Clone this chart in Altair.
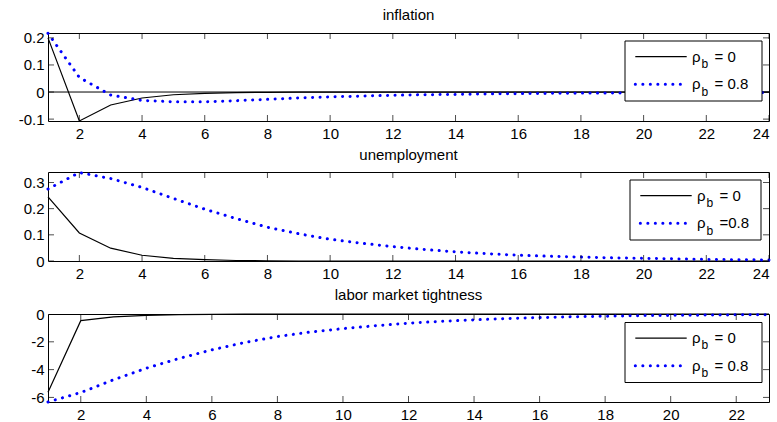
import altair as alt
import pandas as pd

FONT = "Liberation Sans"
BLUE = "#0000ff"

# ---------------- data ----------------
periods_24 = [1, 2, 3, 4, 5, 6, 7, 8, 9, 10, 11, 12, 13, 14, 15, 16, 17, 18, 19, 20, 21, 22, 23, 24]
periods_23 = [1, 2, 3, 4, 5, 6, 7, 8, 9, 10, 11, 12, 13, 14, 15, 16, 17, 18, 19, 20, 21, 22, 23]

inflation_rho0 = [0.200, -0.107, -0.048, -0.022, -0.010, -0.005, -0.002, -0.001,
                  0.000, 0.000, 0.000, 0.000, 0.000, 0.000, 0.000, 0.000,
                  0.000, 0.000, 0.000, 0.000, 0.000, 0.000, 0.000, 0.000]
inflation_rho08 = [0.217, 0.054, -0.011, -0.031, -0.036, -0.036, -0.032, -0.027,
                   -0.022, -0.018, -0.015, -0.012, -0.010, -0.009, -0.007, -0.006,
                   -0.005, -0.004, -0.004, -0.003, -0.003, -0.002, -0.002, -0.002]

unemployment_rho0 = [0.245, 0.107, 0.049, 0.022, 0.010, 0.005, 0.002, 0.001,
                     0.000, 0.000, 0.000, 0.000, 0.000, 0.000, 0.000, 0.000,
                     0.000, 0.000, 0.000, 0.000, 0.000, 0.000, 0.000, 0.000]
unemployment_rho08 = [0.275, 0.338, 0.315, 0.281, 0.239, 0.198, 0.162, 0.129,
                      0.104, 0.083, 0.068, 0.055, 0.044, 0.035, 0.028, 0.022,
                      0.018, 0.015, 0.012, 0.010, 0.008, 0.006, 0.005, 0.004]

tightness_rho0 = [-5.62, -0.48, -0.21, -0.10, -0.05, -0.025, -0.012, -0.006,
                  -0.003, -0.001, 0.0, 0.0, 0.0, 0.0, 0.0, 0.0,
                  0.0, 0.0, 0.0, 0.0, 0.0, 0.0, 0.0]
tightness_rho08 = [-6.33, -5.65, -4.73, -3.90, -3.20, -2.58, -2.05, -1.62,
                   -1.30, -1.05, -0.84, -0.66, -0.53, -0.42, -0.33, -0.26,
                   -0.20, -0.16, -0.12, -0.10, -0.08, -0.06, -0.05]

titles = ["inflation", "unemployment", "labor market tightness"]
xticks_24 = [2, 4, 6, 8, 10, 12, 14, 16, 18, 20, 22, 24]
xticks_23 = [2, 4, 6, 8, 10, 12, 14, 16, 18, 20, 22]
yticks_inflation = [-0.1, 0, 0.1, 0.2]
yticks_unemployment = [0, 0.1, 0.2, 0.3]
yticks_tightness = [-6, -4, -2, 0]
legend_rows_a = ["= 0", "= 0.8"]
legend_rows_b = ["= 0", "=0.8"]

# ---------------- layout ----------------
W = 721
DOT = [0.1, 7.4]


def legend(bx, by, bw, rows):
    base = alt.Chart(pd.DataFrame({"k": [0]}))
    bh = 60
    layers = [
        base.mark_rect(fill="white", stroke="black", strokeWidth=1).encode(
            x=alt.value(bx), x2=alt.value(bx + bw), y=alt.value(by), y2=alt.value(by + bh)),
        base.mark_rule(color="black", strokeWidth=1.2).encode(
            x=alt.value(bx + 10.3), x2=alt.value(bx + 61.7), y=alt.value(by + 15.7)),
        base.mark_rule(color=BLUE, strokeWidth=3, strokeDash=DOT, strokeCap="round").encode(
            x=alt.value(bx + 10.3), x2=alt.value(bx + 61.7), y=alt.value(by + 43.3)),
    ]
    for i, txt in enumerate(rows):
        yb = by + 20.7 + i * 27.7
        layers.append(base.mark_text(align="left", baseline="alphabetic", font=FONT,
                                     fontSize=15, color="black").encode(
            x=alt.value(bx + 67), y=alt.value(yb), text=alt.value("ρ")))
        layers.append(base.mark_text(align="left", baseline="alphabetic", font=FONT,
                                     fontSize=12, color="black").encode(
            x=alt.value(bx + 76.5), y=alt.value(yb + 6.2), text=alt.value("b")))
        layers.append(base.mark_text(align="left", baseline="alphabetic", font=FONT,
                                     fontSize=15, color="black").encode(
            x=alt.value(bx + 89.5), y=alt.value(yb), text=alt.value(txt)))
    return layers


def panel(title, periods, s0, s8, ydomain, yticks, xticks, xmax, H,
          leg_x, leg_y, leg_w, rows, zero_line=False):
    xs = alt.Scale(domain=[1, xmax], nice=False, zero=False)
    ys = alt.Scale(domain=ydomain, nice=False, zero=False)
    X = alt.X("period:Q", scale=xs, title=None,
              axis=alt.Axis(values=xticks, format="d"))
    Y = alt.Y("value:Q", scale=ys, title=None,
              axis=alt.Axis(values=yticks, format="~g",
                            labelExpr="replace(datum.label, '\u2212', '-')"))
    d0 = pd.DataFrame({"period": periods, "value": s0})
    d8 = pd.DataFrame({"period": periods, "value": s8})
    layers = []
    if zero_line:
        layers.append(alt.Chart(pd.DataFrame({"value": [0]})).mark_rule(
            color="black", strokeWidth=1).encode(y=Y))
    layers.append(alt.Chart(d0).mark_line(color="black", strokeWidth=1.2).encode(x=X, y=Y))
    layers.append(alt.Chart(d8).mark_line(color=BLUE, strokeWidth=3, strokeDash=DOT,
                                          strokeCap="round").encode(x=X, y=Y))
    xt = alt.Chart(pd.DataFrame({"period": xticks}))
    yt = alt.Chart(pd.DataFrame({"value": yticks}))
    tick_v = dict(orient="vertical", size=12, thickness=1, color="black", clip=True)
    tick_h = dict(orient="horizontal", size=12, thickness=1, color="black", clip=True)
    layers += [
        xt.mark_tick(**tick_v).encode(x=X, y=alt.value(0)),
        xt.mark_tick(**tick_v).encode(x=X, y=alt.value(H)),
        yt.mark_tick(**tick_h).encode(y=Y, x=alt.value(0)),
        yt.mark_tick(**tick_h).encode(y=Y, x=alt.value(W)),
    ]
    layers += legend(leg_x, leg_y, leg_w, rows)
    return alt.layer(*layers).properties(
        width=W, height=H,
        title=alt.TitleParams(title, font=FONT, fontSize=15, fontWeight="normal",
                              color="black", anchor="middle", offset=4))


p1 = panel(titles[0], periods_24, inflation_rho0, inflation_rho08, [-0.107, 0.218],
           yticks_inflation, xticks_24, 24, 88, 577, 8, 137, legend_rows_a, zero_line=True)
p2 = panel(titles[1], periods_24, unemployment_rho0, unemployment_rho08, [0, 0.34],
           yticks_unemployment, xticks_24, 24, 89, 582, 8, 131, legend_rows_b)
p3 = panel(titles[2], periods_23, tightness_rho0, tightness_rho08, [-6.33, 0],
           yticks_tightness, xticks_23, 23, 88, 577, 8.5, 137, legend_rows_a)

chart = alt.vconcat(p1, p2, p3, spacing=5).properties(
    padding={"left": 5, "top": 7, "right": 0, "bottom": 0}
).configure_view(stroke="black", strokeWidth=1).configure_axis(
    labelFont=FONT, labelFontSize=15, labelColor="black", ticks=False, tickSize=0,
    domain=False, grid=False, labelPadding=5
).configure_axisY(minExtent=42, maxExtent=42, labelPadding=4)

chart.save("out.html", embed_options={"renderer": "svg", "actions": False})
